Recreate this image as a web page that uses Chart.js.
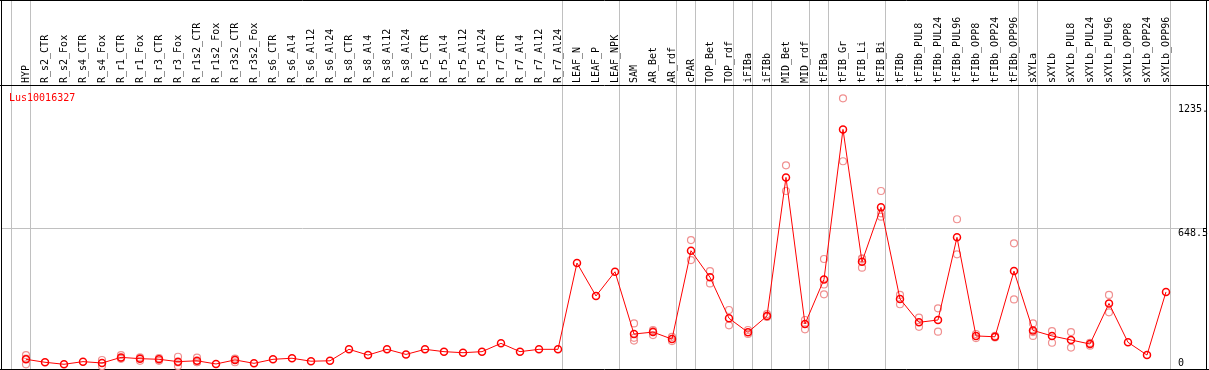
<!DOCTYPE html>
<html>
<head>
<meta charset="utf-8">
<title>Lus10016327</title>
<script src="https://cdn.jsdelivr.net/npm/chart.js@4.4.1/dist/chart.umd.min.js"></script>
<style>
    html, body { margin: 0; padding: 0; background: #ffffff; }
    #wrap { width: 1209px; height: 370px; }
    canvas { display: block; }
</style>
</head>
<body>
<div id="wrap"><canvas id="exprChart" width="1209" height="370"></canvas></div>
<script>
// sample names, left to right
const categories = [
    "HYP", "R_s2_CTR", "R_s2_Fox", "R_s4_CTR", "R_s4_Fox", "R_r1_CTR", "R_r1_Fox",
    "R_r3_CTR", "R_r3_Fox", "R_r1s2_CTR", "R_r1s2_Fox", "R_r3s2_CTR", "R_r3s2_Fox",
    "R_s6_CTR", "R_s6_Al4", "R_s6_Al12", "R_s6_Al24", "R_s8_CTR", "R_s8_Al4", "R_s8_Al12",
    "R_s8_Al24", "R_r5_CTR", "R_r5_Al4", "R_r5_Al12", "R_r5_Al24", "R_r7_CTR", "R_r7_Al4",
    "R_r7_Al12", "R_r7_Al24", "LEAF_N", "LEAF_P", "LEAF_NPK", "SAM", "AR_Bet", "AR_rdf",
    "cPAR", "TOP_Bet", "TOP_rdf", "iFIBa", "iFIBb", "MID_Bet", "MID_rdf", "tFIBa",
    "tFIB_Gr", "tFIB_Li", "tFIB_Bi", "tFIBb", "tFIBb_PUL8", "tFIBb_PUL24", "tFIBb_PUL96",
    "tFIBb_OPP8", "tFIBb_OPP24", "tFIBb_OPP96", "sXYLa", "sXYLb", "sXYLb_PUL8",
    "sXYLb_PUL24", "sXYLb_PUL96", "sXYLb_OPP8", "sXYLb_OPP24", "sXYLb_OPP96"
];

// mean expression per sample
const means = [
    32, 18, 8.5, 21, 14.6, 41, 35, 32, 21, 25, 10, 29, 13,
    32, 37, 23, 25, 79, 52, 79, 55, 79, 68, 63, 68, 107, 68, 79, 79,
    485, 330, 444, 151, 160, 127, 543, 418, 225, 159, 236, 888, 198,
    408, 1114, 491, 747, 316, 206, 217, 606, 142, 138, 447,
    168, 142, 123, 104, 295, 112, 52, 349
];

// individual replicates (empty where they sit under the mean)
const replicates = [
    [52, 8.5, 35], [], [], [], [28.7, 0.5], [52, 38, 34], [41, 25, 38],
    [38, 25], [44, 1, 17], [39.5, 18, 19], [], [35, 18, 33], [],
    [], [], [], [], [], [], [], [], [], [], [], [], [], [], [], [],
    [], [], [], [201, 120, 133], [170, 146, 165], [138, 118],
    [593, 499], [447, 389], [264, 192], [170, 151], [245, 231], [945, 824], [217, 173],
    [504, 384, 338], [1260, 964], [507, 463, 504], [824, 719, 703],
    [335, 291], [228, 185], [272, 162], [691, 526], [151, 132], [142, 135], [578, 314],
    [201, 160, 142], [165, 110], [160, 87], [109, 96], [335, 253], [], [], []
];

// samples after which a group separator is drawn
const groupEnds = [-1, 0, 28, 31, 34, 35, 37, 38, 39, 41, 42, 45, 52, 53, 60];

// right-hand value ticks
const yTickValues = [0, 648.5, 1235];
const yTickLabels = ["0", "648.5", "1235."];

const geneName = "Lus10016327";

document.addEventListener("DOMContentLoaded", () => {
    let canvas = document.getElementById("exprChart");
    let ctx = canvas.getContext("2d");

    let meanPoints = means.map((v, i) => ({ x: i, y: v }));
    let repPoints = [];
    replicates.forEach((reps, i) => {
        reps.forEach(v => repPoints.push({ x: i, y: v }));
    });

    const FONT = "10px 'DejaVu Sans Mono', monospace";

    // frame, separators, labels and ticks
    const decorations = {
        id: "decorations",
        beforeDatasetsDraw(chart) {
            let c = chart.ctx;
            let xs = chart.scales.x;
            let ys = chart.scales.y;
            let area = chart.chartArea;
            c.save();

            // horizontal grid at the middle tick
            c.strokeStyle = "#c0c0c0";
            c.lineWidth = 1;
            let gy = Math.round(ys.getPixelForValue(yTickValues[1])) + 0.5;
            c.beginPath();
            c.moveTo(area.left, gy);
            c.lineTo(area.right, gy);
            c.stroke();

            // group separators run through the label band too
            groupEnds.forEach(i => {
                let gx = Math.round(xs.getPixelForValue(i + 0.23)) + 0.5;
                c.beginPath();
                c.moveTo(gx, 0);
                c.lineTo(gx, area.bottom);
                c.stroke();
            });

            // sample names, rotated
            c.fillStyle = "#000000";
            c.font = FONT;
            c.textAlign = "left";
            c.textBaseline = "alphabetic";
            categories.forEach((name, i) => {
                let px = xs.getPixelForValue(i);
                c.save();
                c.translate(Math.round(px) + 2.5, area.top - 2);
                c.rotate(-Math.PI / 2);
                c.fillText(name, 0, 0);
                c.restore();
            });

            // value ticks inside the plot, on the right
            yTickValues.forEach((v, k) => {
                let ty = Math.min(ys.getPixelForValue(v) + 8, area.bottom - 3);
                c.fillText(yTickLabels[k], 1178, ty);
            });

            // gene name
            c.fillStyle = "#ff0000";
            c.fillText(geneName, 9, 101);

            // black frame
            c.strokeStyle = "#000000";
            c.beginPath();
            c.moveTo(0, 0.5); c.lineTo(1209, 0.5);
            c.moveTo(1.5, 0); c.lineTo(1.5, 370);
            c.moveTo(1206.5, 0); c.lineTo(1206.5, 370);
            c.moveTo(0, area.top + 0.5); c.lineTo(1209, area.top + 0.5);
            c.moveTo(0, area.bottom + 0.5); c.lineTo(1209, area.bottom + 0.5);
            c.stroke();
            c.restore();
        }
    };

    window.exprChart = new Chart(ctx, {
        type: "line",
        data: {
            datasets: [{
                label: "mean",
                data: meanPoints,
                borderColor: "#ff0000",
                borderWidth: 1,
                backgroundColor: "transparent",
                pointStyle: "circle",
                pointRadius: 3.5,
                pointBorderWidth: 1.5,
                pointBorderColor: "#ff0000",
                pointBackgroundColor: "transparent",
                tension: 0,
                clip: false
            }, {
                label: "replicates",
                data: repPoints,
                showLine: false,
                pointStyle: "circle",
                pointRadius: 3.5,
                pointBorderWidth: 1.2,
                pointBorderColor: "#f09090",
                pointBackgroundColor: "transparent",
                clip: false
            }]
        },
        options: {
            responsive: false,
            devicePixelRatio: 1,
            animation: false,
            layout: { autoPadding: false, padding: { top: 85, bottom: 1, left: 1, right: 2 } },
            plugins: {
                legend: { display: false },
                tooltip: { enabled: false }
            },
            scales: {
                x: { type: "linear", display: false, min: -1.3158, max: 62.158 },
                y: { type: "linear", display: false, min: -13.65, max: 1322.9 }
            }
        },
        plugins: [decorations]
    });
});
</script>
</body>
</html>
